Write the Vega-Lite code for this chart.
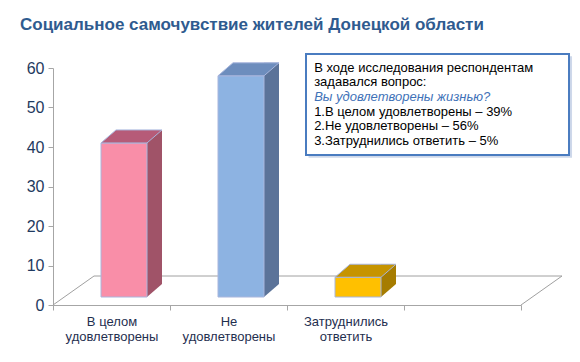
{
  "$schema": "https://vega.github.io/schema/vega-lite/v6.json",
  "width": 468,
  "height": 237,
  "autosize": {"type": "none"},
  "padding": {"left": 53, "top": 68, "right": 59, "bottom": 57},
  "background": "white",
  "config": {"view": {"stroke": null}, "font": "Liberation Sans"},
  "title": {
    "text": "Социальное самочувствие жителей Донецкой области",
    "anchor": "start",
    "frame": "group",
    "dx": -33,
    "baseline": "alphabetic",
    "offset": 6,
    "fontSize": 17,
    "fontWeight": "bold",
    "color": "#2f5b8f",
    "font": "Liberation Sans"
  },
  "datasets": {
    "answers": [
      {"cat": "В целом|удовлетворены", "pct": 39},
      {"cat": "Не|удовлетворены", "pct": 56},
      {"cat": "Затруднились|ответить", "pct": 5}
    ],
    "note": [
      {
        "head": ["В ходе исследования респондентам", "задавался вопрос:"],
        "q": "Вы удовлетворены жизнью?",
        "items": ["1.В целом удовлетворены – 39%", "2.Не удовлетворены – 56%", "3.Затруднились ответить – 5%"]
      }
    ]
  },
  "resolve": {"scale": {"x": "independent"}, "axis": {"x": "independent", "y": "independent"}},
  "layer": [
    {
      "data": {"name": "note"},
      "layer": [
        {
          "mark": {"type": "rule", "color": "#a0a0a0", "strokeWidth": 1, "xOffset": 41, "x2Offset": 41, "yOffset": -29, "y2Offset": -29},
          "encoding": {
            "x": {"datum": 0, "type": "quantitative", "scale": {"domain": [0, 100]}, "axis": null},
            "x2": {"datum": 100},
            "y": {"datum": 0, "type": "quantitative", "axis": null},
            "y2": {"datum": 0}
          }
        },
        {
          "mark": {"type": "rule", "color": "#a0a0a0", "strokeWidth": 1, "x2Offset": 41, "y2Offset": -29},
          "encoding": {
            "x": {"datum": 0, "type": "quantitative"},
            "x2": {"datum": 0},
            "y": {"datum": 0, "type": "quantitative", "axis": null},
            "y2": {"datum": 0}
          }
        },
        {
          "mark": {"type": "rule", "color": "#a0a0a0", "strokeWidth": 1, "x2Offset": 41, "y2Offset": -29},
          "encoding": {
            "x": {"datum": 100, "type": "quantitative"},
            "x2": {"datum": 100},
            "y": {"datum": 0, "type": "quantitative", "axis": null},
            "y2": {"datum": 0}
          }
        }
      ]
    },
    {
      "data": {"name": "answers"},
      "resolve": {"scale": {"color": "independent"}},
      "encoding": {
        "x": {
          "field": "cat",
          "type": "nominal",
          "scale": {"domain": ["В целом|удовлетворены", "Не|удовлетворены", "Затруднились|ответить", " "], "paddingInner": 0, "paddingOuter": 0},
          "axis": {
            "orient": "bottom",
            "title": null,
            "labelAngle": 0,
            "tickBand": "extent",
            "labelExpr": "split(datum.label, '|')",
            "labelFontSize": 13,
            "labelColor": "#1f2f4f",
            "labelLineHeight": 15,
            "labelPadding": 5,
            "domainColor": "#a6a6a6",
            "tickColor": "#a6a6a6",
            "tickSize": 5
          }
        },
        "y": {
          "field": "pct",
          "type": "quantitative",
          "scale": {"domain": [0, 60]},
          "axis": {
            "orient": "left",
            "values": [0, 10, 20, 30, 40, 50, 60],
            "title": null,
            "grid": false,
            "domainColor": "#a6a6a6",
            "tickColor": "#a6a6a6",
            "tickSize": 5,
            "labelFontSize": 16,
            "labelColor": "#1f3a60",
            "labelPadding": 4
          }
        }
      },
      "layer": [
        {
          "mark": {"type": "bar", "width": 15, "xOffset": 43, "yOffset": -21, "y2Offset": -21},
          "encoding": {
            "y2": {"datum": 0},
            "color": {"field": "cat", "type": "nominal", "scale": {"domain": ["В целом|удовлетворены", "Не|удовлетворены", "Затруднились|ответить"], "range": ["#a05368", "#5b7399", "#a67c00"]}, "legend": null}
          }
        },
        {
          "mark": {"type": "point", "filled": true, "opacity": 1, "size": 3600, "strokeWidth": 0, "shape": "M0.7667,0L0.7667,-0.4333L1.2667,-0.4333Z", "xOffset": 12.5, "yOffset": -8},
          "encoding": {
            "y": {"datum": 0},
            "color": {"field": "cat", "type": "nominal", "scale": {"domain": ["В целом|удовлетворены", "Не|удовлетворены", "Затруднились|ответить"], "range": ["#a05368", "#5b7399", "#a67c00"]}, "legend": null}
          }
        },
        {
          "mark": {"type": "bar", "width": 46, "xOffset": 12.5, "yOffset": -8, "y2Offset": -8, "stroke": "#a8b6dd", "strokeWidth": 1},
          "encoding": {
            "y2": {"datum": 0},
            "color": {"field": "cat", "type": "nominal", "scale": {"domain": ["В целом|удовлетворены", "Не|удовлетворены", "Затруднились|ответить"], "range": ["#f98ea8", "#8db3e2", "#ffc000"]}, "legend": null}
          }
        },
        {
          "mark": {"type": "point", "filled": true, "opacity": 1, "size": 3600, "stroke": "#a8b6dd", "strokeWidth": 1, "shape": "M-0.7667,0L0.7667,0L1.2667,-0.4333L-0.2667,-0.4333Z", "xOffset": 12.5, "yOffset": -8},
          "encoding": {
            "color": {"field": "cat", "type": "nominal", "scale": {"domain": ["В целом|удовлетворены", "Не|удовлетворены", "Затруднились|ответить"], "range": ["#b65b78", "#6d8dbd", "#c69400"]}, "legend": null}
          }
        }
      ]
    },
    {
      "data": {"name": "note"},
      "layer": [
        {
          "mark": {"type": "rect", "fill": "#c9d4e8", "opacity": 0.9},
          "encoding": {
            "x": {"datum": 54.6, "type": "quantitative", "scale": {"domain": [0, 100]}, "axis": null},
            "x2": {"datum": 110.9},
            "y": {"datum": 63.0, "type": "quantitative", "axis": null},
            "y2": {"datum": 37.3}
          }
        },
        {
          "mark": {"type": "rect", "fill": "white", "stroke": "#4a7cc0", "strokeWidth": 2},
          "encoding": {
            "x": {"datum": 54.06, "type": "quantitative"},
            "x2": {"datum": 110.26},
            "y": {"datum": 63.54, "type": "quantitative", "axis": null},
            "y2": {"datum": 37.97}
          }
        },
        {
          "mark": {"type": "text", "align": "left", "baseline": "middle", "fontSize": 13, "lineHeight": 14.4, "color": "#000000"},
          "encoding": {
            "x": {"datum": 55.8, "type": "quantitative"},
            "y": {"datum": 60.0, "type": "quantitative", "axis": null},
            "text": {"field": "head"}
          }
        },
        {
          "mark": {"type": "text", "align": "left", "baseline": "middle", "fontSize": 13, "fontStyle": "italic", "color": "#3f72b8"},
          "encoding": {
            "x": {"datum": 55.8, "type": "quantitative"},
            "y": {"datum": 52.66, "type": "quantitative", "axis": null},
            "text": {"field": "q"}
          }
        },
        {
          "mark": {"type": "text", "align": "left", "baseline": "middle", "fontSize": 13, "lineHeight": 14.4, "color": "#000000"},
          "encoding": {
            "x": {"datum": 55.8, "type": "quantitative"},
            "y": {"datum": 48.86, "type": "quantitative", "axis": null},
            "text": {"field": "items"}
          }
        }
      ]
    }
  ]
}
